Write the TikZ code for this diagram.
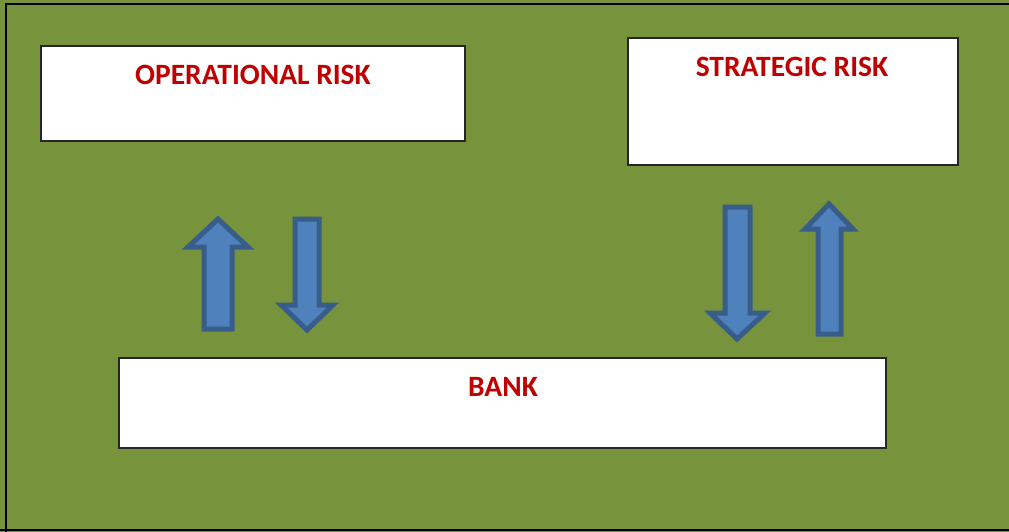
\documentclass[tikz,border=0pt]{standalone}
\usepackage{fontspec}
\setmainfont{Carlito}
\definecolor{bggreen}{HTML}{77933C}
\definecolor{riskred}{HTML}{C00000}
\definecolor{arrowfill}{HTML}{4F81BD}
\definecolor{arrowline}{HTML}{385D8A}
\tikzset{
  riskbox/.style={draw=black!85, line width=1.3pt, fill=white},
  risklabel/.style={font=\fontsize{29.5}{34}\selectfont\bfseries, text=riskred, inner sep=0pt},
  fatarrow/.style={fill=arrowfill, draw=arrowline, line width=5pt, line join=miter}
}
\begin{document}
\begin{tikzpicture}[x=1pt,y=-1pt]
\useasboundingbox (0,0) rectangle (1009,532);
\fill[bggreen] (-6,-6) rectangle (1016,538);
\draw[line width=2.5pt] (6,532) -- (6,4) -- (1016,4);
\draw[line width=2.5pt] (0,530) -- (1016,530);
% boxes
\draw[riskbox] (41,46) rectangle (465,141);
\draw[riskbox] (628,38) rectangle (958,165);
\draw[riskbox] (119,358) rectangle (886,448);
\node[risklabel] (op) at (253,75) {OPERATIONAL RISK};
\node[risklabel] (st) at (792,67) {STRATEGIC RISK};
\node[risklabel] (bank) at (503,387) {BANK};
% arrows (left pair)
\draw[fatarrow] (204,329) -- (204,247) -- (188,247) -- (218,219) -- (248,247) -- (232,247) -- (232,329) -- cycle;
\draw[fatarrow] (295,219) -- (295,305) -- (281,305) -- (307,330) -- (333,305) -- (319,305) -- (319,219) -- cycle;
% arrows (right pair)
\draw[fatarrow] (725,207) -- (725,313) -- (710,313) -- (737,339) -- (765,313) -- (750,313) -- (750,207) -- cycle;
\draw[fatarrow] (818,334) -- (818,229) -- (805,229) -- (829,204) -- (853,229) -- (841,229) -- (841,334) -- cycle;
\end{tikzpicture}
\end{document}
